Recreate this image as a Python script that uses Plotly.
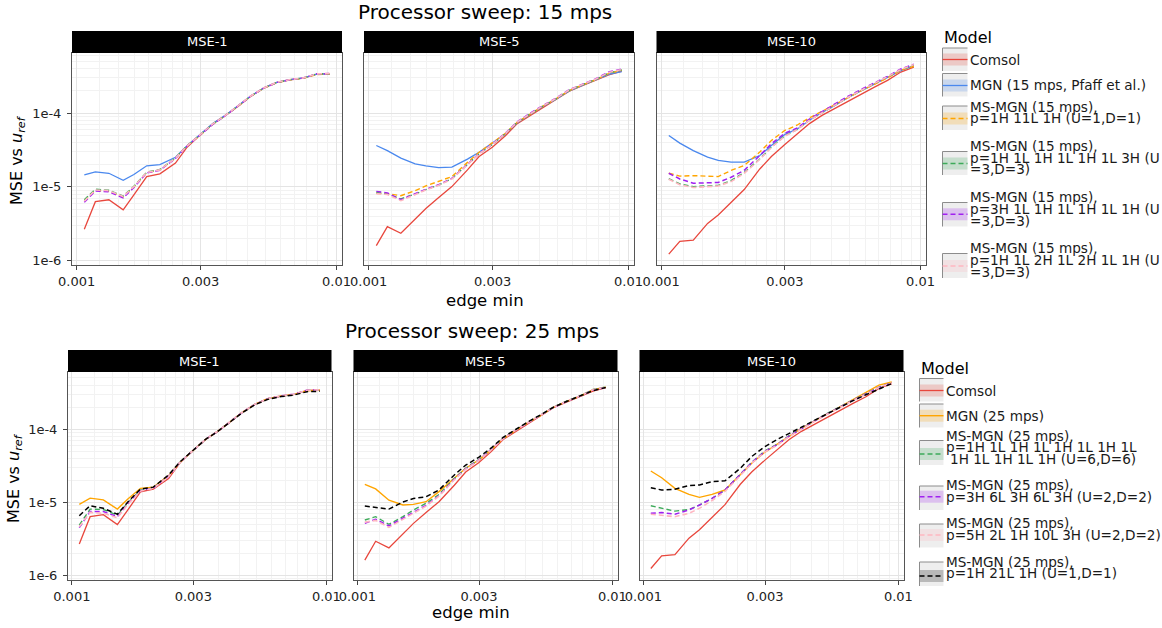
import plotly.graph_objects as go

W, H = 1162, 628
FONT = "DejaVu Sans"

# ---------------------------------------------------------------- data
edge_min = [0.00107, 0.00118, 0.00133, 0.00151, 0.00166, 0.00186, 0.00209, 0.00240,
            0.00266, 0.00299, 0.00335, 0.00373, 0.00417, 0.00466, 0.00524, 0.00589,
            0.00664, 0.00746, 0.00839, 0.00942]

facets = ["MSE-1", "MSE-5", "MSE-10"]

x_breaks = [0.001, 0.003, 0.01]
x_labels = ["0.001", "0.003", "0.01"]
y_breaks = [1e-6, 1e-5, 1e-4]
y_labels = ["1e-6", "1e-5", "1e-4"]

# Comsol reference (shared by both sweeps)
comsol_mse1 = [2.67e-6, 6.3e-6, 6.7e-6, 4.9e-6, 7.8e-6, 1.38e-5, 1.5e-5, 2.1e-5, 3.45e-5, 5.1e-5,
               7.2e-5, 9.2e-5, 1.23e-4, 1.68e-4, 2.18e-4, 2.6e-4, 2.83e-4, 2.98e-4, 3.38e-4, 3.41e-4]
comsol_mse5 = [1.6e-6, 2.9e-6, 2.35e-6, 3.7e-6, 5.1e-6, 7.2e-6, 1.01e-5, 1.7e-5, 2.58e-5, 3.45e-5,
               4.9e-5, 7.2e-5, 9.2e-5, 1.2e-4, 1.52e-4, 1.97e-4, 2.35e-4, 2.78e-4, 3.3e-4, 3.7e-4]
comsol_mse10 = [1.23e-6, 1.83e-6, 1.9e-6, 3.2e-6, 4.17e-6, 6.2e-6, 9.2e-6, 1.75e-5, 2.58e-5, 3.72e-5,
                5.25e-5, 7.2e-5, 9.3e-5, 1.15e-4, 1.45e-4, 1.83e-4, 2.25e-4, 2.77e-4, 3.6e-4, 4.2e-4]

# 15 mps sweep
mgn15_mse1 = [1.46e-5, 1.6e-5, 1.53e-5, 1.23e-5, 1.47e-5, 1.93e-5, 2.0e-5, 2.52e-5, 3.6e-5, 5.2e-5,
              7.3e-5, 9.3e-5, 1.24e-4, 1.69e-4, 2.19e-4, 2.6e-4, 2.84e-4, 2.99e-4, 3.36e-4, 3.4e-4]
mgn15_mse5 = [3.64e-5, 3.1e-5, 2.45e-5, 2.05e-5, 1.93e-5, 1.83e-5, 1.85e-5, 2.38e-5, 2.95e-5, 3.9e-5,
              5.2e-5, 7.4e-5, 9.6e-5, 1.22e-4, 1.53e-4, 1.98e-4, 2.38e-4, 2.8e-4, 3.35e-4, 3.65e-4]
mgn15_mse10 = [4.98e-5, 3.92e-5, 3.1e-5, 2.53e-5, 2.28e-5, 2.16e-5, 2.16e-5, 2.66e-5, 3.65e-5, 5.1e-5,
               6.1e-5, 8.0e-5, 1.02e-4, 1.26e-4, 1.62e-4, 2.0e-4, 2.46e-4, 3.0e-4, 3.75e-4, 4.4e-4]

ms15a_mse1 = [6.5e-6, 9.0e-6, 8.7e-6, 7.3e-6, 1.0e-5, 1.56e-5, 1.7e-5, 2.45e-5, 3.6e-5, 5.0e-5,
              7.1e-5, 9.2e-5, 1.23e-4, 1.67e-4, 2.17e-4, 2.58e-4, 2.82e-4, 2.97e-4, 3.33e-4, 3.37e-4]
ms15a_mse5 = [8.2e-6, 8.1e-6, 7.6e-6, 8.9e-6, 1.03e-5, 1.2e-5, 1.38e-5, 2.15e-5, 2.95e-5, 3.95e-5,
              5.3e-5, 7.5e-5, 9.7e-5, 1.23e-4, 1.55e-4, 2.0e-4, 2.4e-4, 2.82e-4, 3.45e-4, 3.8e-4]
ms15a_mse10 = [1.53e-5, 1.4e-5, 1.42e-5, 1.4e-5, 1.38e-5, 1.67e-5, 1.95e-5, 2.96e-5, 4.25e-5, 5.8e-5,
               6.9e-5, 8.6e-5, 1.06e-4, 1.3e-4, 1.63e-4, 2.0e-4, 2.45e-4, 3.0e-4, 3.8e-4, 4.3e-4]

ms15b_mse1 = [6.7e-6, 9.3e-6, 9.0e-6, 7.5e-6, 1.02e-5, 1.58e-5, 1.72e-5, 2.47e-5, 3.62e-5, 5.05e-5,
              7.15e-5, 9.2e-5, 1.23e-4, 1.68e-4, 2.18e-4, 2.6e-4, 2.84e-4, 2.99e-4, 3.38e-4, 3.41e-4]
ms15b_mse5 = [8.4e-6, 8.0e-6, 6.9e-6, 8.0e-6, 9.2e-6, 1.06e-5, 1.3e-5, 2.0e-5, 2.8e-5, 3.75e-5,
              5.2e-5, 7.5e-5, 9.7e-5, 1.23e-4, 1.55e-4, 2.02e-4, 2.42e-4, 2.84e-4, 3.5e-4, 3.85e-4]
ms15b_mse10 = [1.29e-5, 1.1e-5, 1.01e-5, 1.03e-5, 1.05e-5, 1.22e-5, 1.57e-5, 2.4e-5, 3.45e-5, 4.9e-5,
               6.0e-5, 8.0e-5, 1.02e-4, 1.27e-4, 1.63e-4, 2.02e-4, 2.48e-4, 3.05e-4, 3.85e-4, 4.5e-4]

ms15c_mse1 = [6.2e-6, 8.8e-6, 8.6e-6, 7.1e-6, 9.8e-6, 1.55e-5, 1.68e-5, 2.43e-5, 3.58e-5, 5.0e-5,
              7.1e-5, 9.2e-5, 1.23e-4, 1.68e-4, 2.18e-4, 2.6e-4, 2.84e-4, 3.0e-4, 3.4e-4, 3.43e-4]
ms15c_mse5 = [8.7e-6, 8.3e-6, 6.7e-6, 8.1e-6, 9.3e-6, 1.07e-5, 1.3e-5, 2.02e-5, 2.82e-5, 3.8e-5,
              5.3e-5, 7.6e-5, 9.9e-5, 1.25e-4, 1.58e-4, 2.06e-4, 2.46e-4, 2.9e-4, 3.6e-4, 3.95e-4]
ms15c_mse10 = [1.53e-5, 1.28e-5, 1.12e-5, 1.13e-5, 1.15e-5, 1.35e-5, 1.68e-5, 2.66e-5, 3.84e-5, 5.3e-5,
               6.3e-5, 8.3e-5, 1.05e-4, 1.3e-4, 1.68e-4, 2.08e-4, 2.55e-4, 3.15e-4, 3.95e-4, 4.6e-4]

ms15d_mse1 = [6.4e-6, 9.1e-6, 8.9e-6, 7.4e-6, 1.01e-5, 1.57e-5, 1.7e-5, 2.46e-5, 3.6e-5, 5.05e-5,
              7.2e-5, 9.25e-5, 1.24e-4, 1.69e-4, 2.19e-4, 2.61e-4, 2.85e-4, 3.0e-4, 3.4e-4, 3.43e-4]
ms15d_mse5 = [8.1e-6, 7.9e-6, 6.5e-6, 7.9e-6, 9.1e-6, 1.05e-5, 1.28e-5, 2.0e-5, 2.8e-5, 3.78e-5,
              5.25e-5, 7.55e-5, 9.8e-5, 1.24e-4, 1.57e-4, 2.04e-4, 2.44e-4, 2.87e-4, 3.55e-4, 3.9e-4]
ms15d_mse10 = [1.27e-5, 1.07e-5, 9.8e-6, 1.0e-5, 1.03e-5, 1.18e-5, 1.53e-5, 2.36e-5, 3.42e-5, 4.85e-5,
               6.0e-5, 8.0e-5, 1.02e-4, 1.27e-4, 1.63e-4, 2.02e-4, 2.48e-4, 3.05e-4, 3.88e-4, 4.55e-4]

# 25 mps sweep
mgn25_mse1 = [9.3e-6, 1.13e-5, 1.07e-5, 8.0e-6, 1.1e-5, 1.54e-5, 1.6e-5, 2.3e-5, 3.5e-5, 5.1e-5,
              7.2e-5, 9.2e-5, 1.23e-4, 1.68e-4, 2.18e-4, 2.6e-4, 2.83e-4, 2.98e-4, 3.35e-4, 3.4e-4]
mgn25_mse5 = [1.75e-5, 1.51e-5, 1.06e-5, 9.1e-6, 9.3e-6, 1.01e-5, 1.39e-5, 2.1e-5, 2.9e-5, 3.75e-5,
              5.2e-5, 7.4e-5, 9.6e-5, 1.22e-4, 1.54e-4, 1.99e-4, 2.4e-4, 2.82e-4, 3.45e-4, 3.75e-4]
mgn25_mse10 = [2.66e-5, 2.15e-5, 1.54e-5, 1.27e-5, 1.16e-5, 1.27e-5, 1.46e-5, 2.4e-5, 3.4e-5, 4.8e-5,
               6.2e-5, 8.0e-5, 1.02e-4, 1.27e-4, 1.6e-4, 2.0e-4, 2.52e-4, 3.2e-4, 4.0e-4, 4.4e-4]

ms25a_mse1 = [4.84e-6, 8.0e-6, 7.9e-6, 6.6e-6, 9.8e-6, 1.45e-5, 1.56e-5, 2.25e-5, 3.5e-5, 5.1e-5,
              7.2e-5, 9.2e-5, 1.23e-4, 1.68e-4, 2.18e-4, 2.6e-4, 2.83e-4, 2.98e-4, 3.38e-4, 3.42e-4]
ms25a_mse5 = [5.67e-6, 6.3e-6, 4.95e-6, 6.3e-6, 7.8e-6, 9.6e-6, 1.27e-5, 2.1e-5, 2.9e-5, 3.8e-5,
              5.3e-5, 7.5e-5, 9.7e-5, 1.23e-4, 1.55e-4, 2.0e-4, 2.42e-4, 2.84e-4, 3.48e-4, 3.78e-4]
ms25a_mse10 = [8.9e-6, 8.2e-6, 7.5e-6, 7.9e-6, 9.1e-6, 1.12e-5, 1.46e-5, 2.4e-5, 3.5e-5, 5.0e-5,
               6.2e-5, 8.1e-5, 1.03e-4, 1.28e-4, 1.62e-4, 2.02e-4, 2.5e-4, 3.05e-4, 3.75e-4, 4.3e-4]

ms25b_mse1 = [4.45e-6, 7.4e-6, 7.4e-6, 6.3e-6, 9.5e-6, 1.43e-5, 1.55e-5, 2.25e-5, 3.5e-5, 5.1e-5,
              7.2e-5, 9.2e-5, 1.23e-4, 1.68e-4, 2.18e-4, 2.6e-4, 2.84e-4, 2.99e-4, 3.4e-4, 3.43e-4]
ms25b_mse5 = [5.1e-6, 5.8e-6, 4.7e-6, 6.0e-6, 7.2e-6, 9.0e-6, 1.22e-5, 2.05e-5, 2.85e-5, 3.75e-5,
              5.25e-5, 7.4e-5, 9.6e-5, 1.22e-4, 1.54e-4, 1.98e-4, 2.4e-4, 2.82e-4, 3.42e-4, 3.72e-4]
ms25b_mse10 = [7.0e-6, 7.2e-6, 6.8e-6, 7.8e-6, 9.1e-6, 1.12e-5, 1.46e-5, 2.35e-5, 3.45e-5, 4.9e-5,
               6.1e-5, 8.0e-5, 1.02e-4, 1.27e-4, 1.6e-4, 2.0e-4, 2.48e-4, 3.02e-4, 3.72e-4, 4.3e-4]

ms25c_mse1 = [4.6e-6, 7.2e-6, 7.0e-6, 6.1e-6, 9.3e-6, 1.42e-5, 1.54e-5, 2.22e-5, 3.48e-5, 5.1e-5,
              7.2e-5, 9.25e-5, 1.24e-4, 1.69e-4, 2.19e-4, 2.61e-4, 2.85e-4, 3.0e-4, 3.4e-4, 3.44e-4]
ms25c_mse5 = [5.3e-6, 5.6e-6, 4.5e-6, 5.8e-6, 7.0e-6, 8.8e-6, 1.2e-5, 2.02e-5, 2.82e-5, 3.72e-5,
              5.2e-5, 7.4e-5, 9.6e-5, 1.22e-4, 1.55e-4, 1.99e-4, 2.41e-4, 2.83e-4, 3.45e-4, 3.75e-4]
ms25c_mse10 = [6.8e-6, 6.6e-6, 6.3e-6, 7.0e-6, 8.2e-6, 1.05e-5, 1.4e-5, 2.3e-5, 3.4e-5, 4.85e-5,
               6.0e-5, 7.9e-5, 1.01e-4, 1.26e-4, 1.58e-4, 1.98e-4, 2.46e-4, 3.0e-4, 3.7e-4, 4.28e-4]

ms25d_mse1 = [6.5e-6, 8.9e-6, 8.2e-6, 6.8e-6, 1.0e-5, 1.5e-5, 1.6e-5, 2.35e-5, 3.55e-5, 5.1e-5,
              7.2e-5, 9.2e-5, 1.22e-4, 1.66e-4, 2.15e-4, 2.55e-4, 2.78e-4, 2.92e-4, 3.25e-4, 3.28e-4]
ms25d_mse5 = [8.8e-6, 8.4e-6, 8.0e-6, 1.0e-5, 1.12e-5, 1.18e-5, 1.46e-5, 2.35e-5, 3.2e-5, 4.1e-5,
              5.5e-5, 7.7e-5, 9.9e-5, 1.25e-4, 1.57e-4, 2.0e-4, 2.4e-4, 2.8e-4, 3.35e-4, 3.7e-4]
ms25d_mse10 = [1.57e-5, 1.46e-5, 1.5e-5, 1.68e-5, 1.71e-5, 1.9e-5, 1.95e-5, 2.9e-5, 4.2e-5, 5.7e-5,
               7.2e-5, 8.6e-5, 1.06e-4, 1.3e-4, 1.6e-4, 2.0e-4, 2.45e-4, 2.95e-4, 3.55e-4, 4.2e-4]

labels_15 = [
    ["Comsol"],
    ["MGN (15 mps, Pfaff et al.)"],
    ["MS-MGN (15 mps),", "p=1H 11L 1H (U=1,D=1)"],
    ["MS-MGN (15 mps),", "p=1H 1L 1H 1L 1H 1L 3H (U", "=3,D=3)"],
    ["MS-MGN (15 mps),", "p=3H 1L 1H 1L 1H 1L 1H (U", "=3,D=3)"],
    ["MS-MGN (15 mps),", "p=1H 1L 2H 1L 2H 1L 1H (U", "=3,D=3)"],
]
labels_25 = [
    ["Comsol"],
    ["MGN (25 mps)"],
    ["MS-MGN (25 mps),", "p=1H 1L 1H 1L 1H 1L 1H 1L", " 1H 1L 1H 1L 1H (U=6,D=6)"],
    ["MS-MGN (25 mps),", "p=3H 6L 3H 6L 3H (U=2,D=2)"],
    ["MS-MGN (25 mps),", "p=5H 2L 1H 10L 3H (U=2,D=2)"],
    ["MS-MGN (25 mps),", "p=1H 21L 1H (U=1,D=1)"],
]

# ---------------------------------------------------------------- styles
RED, BLUE, ORANGE = "#E8473D", "#4A88EE", "#FFA500"
GREEN, PURPLE, PINK, BLACK = "#3DAA5A", "#A020F0", "#FFB6C1", "#000000"
DASH = "5px,3px"

series_15 = [
    (RED, "solid", 1.3, [comsol_mse1, comsol_mse5, comsol_mse10]),
    (BLUE, "solid", 1.3, [mgn15_mse1, mgn15_mse5, mgn15_mse10]),
    (ORANGE, DASH, 1.4, [ms15a_mse1, ms15a_mse5, ms15a_mse10]),
    (GREEN, DASH, 1.4, [ms15b_mse1, ms15b_mse5, ms15b_mse10]),
    (PURPLE, DASH, 1.5, [ms15c_mse1, ms15c_mse5, ms15c_mse10]),
    (PINK, DASH, 1.6, [ms15d_mse1, ms15d_mse5, ms15d_mse10]),
]
series_25 = [
    (RED, "solid", 1.3, [comsol_mse1, comsol_mse5, comsol_mse10]),
    (ORANGE, "solid", 1.4, [mgn25_mse1, mgn25_mse5, mgn25_mse10]),
    (GREEN, DASH, 1.4, [ms25a_mse1, ms25a_mse5, ms25a_mse10]),
    (PURPLE, DASH, 1.5, [ms25b_mse1, ms25b_mse5, ms25b_mse10]),
    (PINK, DASH, 1.6, [ms25c_mse1, ms25c_mse5, ms25c_mse10]),
    (BLACK, DASH, 1.5, [ms25d_mse1, ms25d_mse5, ms25d_mse10]),
]

# ---------------------------------------------------------------- layout geometry (pixels)
rows = [
    dict(panels=[(72, 342), (364, 634), (656.5, 926)], y0=53, y1=265, strip=31,
         xr=[-3.018, -1.979], yr=[-6.058, -3.186], series=series_15),
    dict(panels=[(68, 331.5), (353.5, 617.5), (639.5, 903.5)], y0=372, y1=580, strip=350,
         xr=[-3.015, -1.980], yr=[-6.068, -3.219], series=series_25),
]


def fx(px):
    return px / W


def fy(py):
    return 1 - py / H


x_minor = [0.001 + k * 0.002 / 9 for k in range(1, 9)] + [0.003 + k * 0.007 / 9 for k in range(1, 9)]
y_minor = [m * 10.0 ** e for e in (-7, -6, -5, -4) for m in range(2, 10)]

fig = go.Figure()
layout = dict(
    width=W, height=H, margin=dict(l=0, r=0, t=0, b=0, autoexpand=False),
    paper_bgcolor="white", plot_bgcolor="white",
    font=dict(family=FONT, color="#1a1a1a"),
    showlegend=False,
)
shapes, annotations = [], []

idx = 0
for r, row in enumerate(rows):
    for c, (x0, x1) in enumerate(row["panels"]):
        idx += 1
        sfx = "" if idx == 1 else str(idx)
        xa, ya = "x" + sfx, "y" + sfx
        common = dict(
            type="log", showline=True, mirror=True, linecolor="#555555", linewidth=1,
            showgrid=True, gridcolor="#e4e4e4", gridwidth=1, zeroline=False, automargin=False,
            tickfont=dict(family=FONT, size=13, color="#222222"),
            ticks="outside", ticklen=4, tickwidth=1, tickcolor="#444444",
        )
        layout["xaxis" + sfx] = dict(
            common, domain=[fx(x0), fx(x1)], range=row["xr"], anchor=ya,
            tickmode="array", tickvals=x_breaks, ticktext=x_labels,
            minor=dict(tickmode="array", tickvals=x_minor, showgrid=True,
                       gridcolor="#f2f2f2", gridwidth=0.7, ticks=""),
        )
        yax = dict(
            common, domain=[fy(row["y1"]), fy(row["y0"])], range=row["yr"], anchor=xa,
            tickmode="array", tickvals=y_breaks, ticktext=y_labels, ticklabelstandoff=3,
            minor=dict(tickmode="array", tickvals=y_minor, showgrid=True,
                       gridcolor="#f2f2f2", gridwidth=0.7, ticks=""),
        )
        if c > 0:
            yax.update(showticklabels=False, ticks="")
        layout["yaxis" + sfx] = yax

        for color, dash, width, vals in row["series"]:
            fig.add_trace(go.Scatter(
                x=edge_min, y=vals[c], mode="lines", xaxis=xa, yaxis=ya,
                line=dict(color=color, width=width, dash=dash),
                hoverinfo="skip", showlegend=False,
            ))

        # facet strip
        shapes.append(dict(type="rect", xref="paper", yref="paper", layer="above",
                           x0=fx(x0), x1=fx(x1), y0=fy(row["y0"]), y1=fy(row["strip"]),
                           fillcolor="black", line=dict(width=0)))
        annotations.append(dict(text=facets[c], xref="paper", yref="paper",
                                x=fx((x0 + x1) / 2), y=fy((row["strip"] + row["y0"]) / 2),
                                xanchor="center", yanchor="middle", showarrow=False,
                                font=dict(family=FONT, size=13, color="white")))

# titles and axis titles
for txt, cx, cy, size in [("Processor sweep: 15 mps", 485, 12, 20),
                          ("Processor sweep: 25 mps", 472, 331, 20),
                          ("edge min", 485, 300, 16.5),
                          ("edge min", 471, 612, 16.5)]:
    annotations.append(dict(text=txt, xref="paper", yref="paper", x=fx(cx), y=fy(cy),
                            xanchor="center", yanchor="middle", showarrow=False,
                            font=dict(family=FONT, size=size, color="black")))
for cx, cy in [(18, 160), (14, 478)]:
    annotations.append(dict(text="MSE vs <i>u</i><sub><i>ref</i></sub>", xref="paper", yref="paper",
                            x=fx(cx), y=fy(cy), xanchor="center", yanchor="middle",
                            textangle=-90, showarrow=False,
                            font=dict(family=FONT, size=16, color="black")))


# ---------------------------------------------------------------- legends
def rgba(hex_color, a):
    h = hex_color.lstrip("#")
    return "rgba(%d,%d,%d,%.2f)" % (int(h[0:2], 16), int(h[2:4], 16), int(h[4:6], 16), a)


def legend(title_xy, kx0, kx1, tx, entries, labels, series):
    annotations.append(dict(text="Model", xref="paper", yref="paper",
                            x=fx(title_xy[0]), y=fy(title_xy[1]), xanchor="left", yanchor="middle",
                            showarrow=False, font=dict(family=FONT, size=16, color="black")))
    for (ky0, ky1, ly, text_ys, text_dx), lab, (color, dash, width, _) in zip(entries, labels, series):
        shapes.append(dict(type="rect", xref="paper", yref="paper", x0=fx(kx0), x1=fx(kx1),
                           y0=fy(ky1), y1=fy(ky0), fillcolor="#eeeeee", line=dict(width=0)))
        shapes.append(dict(type="rect", xref="paper", yref="paper", x0=fx(kx0), x1=fx(kx1),
                           y0=fy(ly + 6), y1=fy(ly - 6), fillcolor=rgba(color, 0.22), line=dict(width=0)))
        shapes.append(dict(type="line", xref="paper", yref="paper", x0=fx(kx0), x1=fx(kx1),
                           y0=fy(ky0), y1=fy(ky0), line=dict(color="#8c8c8c", width=1)))
        shapes.append(dict(type="line", xref="paper", yref="paper", x0=fx(kx0), x1=fx(kx0),
                           y0=fy(ky0), y1=fy(ky1), line=dict(color="#8c8c8c", width=1)))
        shapes.append(dict(type="line", xref="paper", yref="paper", x0=fx(kx0), x1=fx(kx1),
                           y0=fy(ly), y1=fy(ly), line=dict(color=color, width=width, dash=dash)))
        for i, (line_txt, ty) in enumerate(zip(lab, text_ys)):
            dx = text_dx if (i == len(lab) - 1 and line_txt.startswith(" ")) else 0
            annotations.append(dict(text=line_txt.strip(), xref="paper", yref="paper",
                                    x=fx(tx + dx), y=fy(ty), xanchor="left", yanchor="middle",
                                    showarrow=False, borderpad=0,
                                    font=dict(family=FONT, size=13.6, color="#1a1a1a")))


legend((942, 37), 942.5, 967.5, 968.5, [
    (48, 71, 59.5, [59.5], 0),
    (73.5, 96.5, 85.5, [85.5], 0),
    (106, 130, 118.5, [106.5, 118.5], 0),
    (151.5, 175, 163.5, [146, 157.7, 169.3], 0),
    (202.5, 226.5, 214.3, [196.7, 208.5, 220.5], 0),
    (253.5, 278, 266, [248.3, 260, 272], 0),
], labels_15, series_15)

legend((919, 368.5), 919.5, 943.5, 944.5, [
    (378.5, 401.5, 390.5, [390.5], 0),
    (404, 427.5, 415.7, [415.7], 0),
    (440.5, 465, 454, [436, 447.3, 459], 4.5),
    (486, 510, 496.7, [485, 496.7], 0),
    (524, 547.5, 535, [522.7, 535], 0),
    (562, 586, 576, [561.7, 573.3], 0),
], labels_25, series_25)

layout["shapes"] = shapes
layout["annotations"] = annotations
fig.update_layout(**layout)
fig.write_html("out.html")
